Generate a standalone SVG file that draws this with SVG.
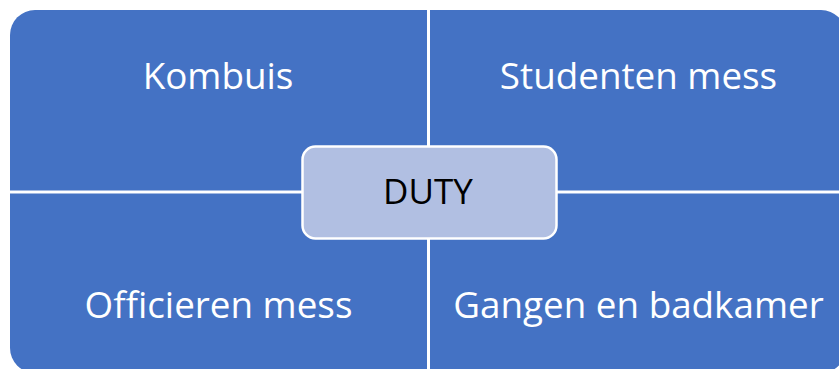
<svg xmlns="http://www.w3.org/2000/svg" width="839" height="369" viewBox="0 0 839 369">
  <style>
    .quad { fill: #4472C4; }
    .lbl { font-family: "Open Sans", "Liberation Sans", sans-serif; font-size: 36.8px; fill: #FFFFFF; text-anchor: middle; }
    .center { fill: #B1BFE2; stroke: #FFFFFF; stroke-width: 2.5; }
    .clbl { font-family: "Open Sans", "Liberation Sans", sans-serif; font-size: 35px; fill: #000000; text-anchor: middle; }
  </style>
  <rect width="839" height="369" fill="#FFFFFF"/>
  <g id="kombuis">
    <path class="quad" d="M10,35 A25,25 0 0 1 35,10 H427 V190.5 H10 Z"/>
    <text class="lbl" x="218" y="89">Kombuis</text>
  </g>
  <g id="studenten-mess">
    <path class="quad" d="M430,10 H821 A25,25 0 0 1 846,35 V190.5 H430 Z"/>
    <text class="lbl" x="638.5" y="89">Studenten mess</text>
  </g>
  <g id="officieren-mess">
    <path class="quad" d="M10,193.5 H427 V373 H35 A25,25 0 0 1 10,348 Z"/>
    <text class="lbl" x="218.5" y="318">Officieren mess</text>
  </g>
  <g id="gangen-en-badkamer">
    <path class="quad" d="M430,193.5 H846 V348 A25,25 0 0 1 821,373 H430 Z"/>
    <text class="lbl" x="638.5" y="318">Gangen en badkamer</text>
  </g>
  <g id="duty">
    <rect class="center" x="302.5" y="146.5" width="254" height="92" rx="13" ry="13"/>
    <text class="clbl" x="428" y="203.5">DUTY</text>
  </g>
</svg>
